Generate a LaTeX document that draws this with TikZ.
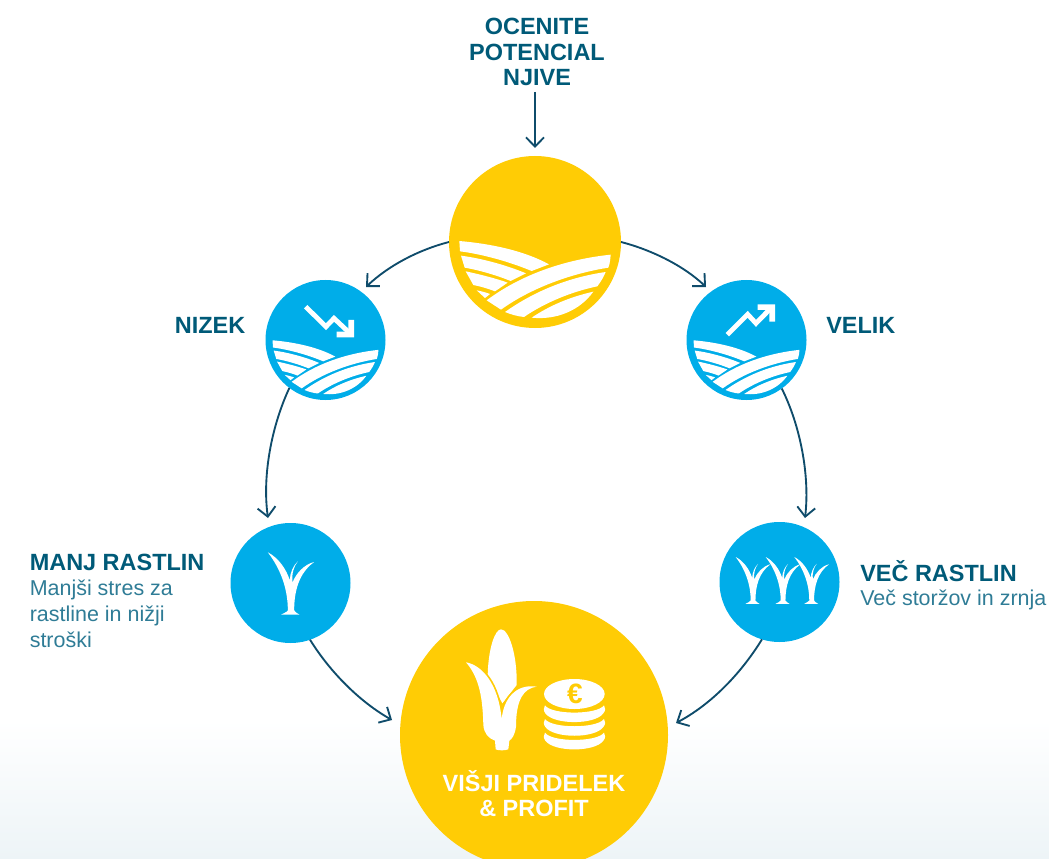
\documentclass[tikz,border=0pt]{standalone}
\usepackage{fontspec}
\setmainfont{Liberation Sans}
\usetikzlibrary{arrows.meta}
\definecolor{gold}{HTML}{FFCC05}
\definecolor{sky}{HTML}{00ADE9}
\definecolor{ink}{HTML}{0F4C6B}
\definecolor{headc}{HTML}{005A78}
\definecolor{bodyc}{HTML}{2F7C96}
\definecolor{mist}{HTML}{EDF4F7}
\tikzset{
 disc/.style={circle,inner sep=0pt,minimum size=#1*0.75pt,outer sep=0pt},
 head/.style={font=\fontsize{17.6}{19.2}\selectfont\bfseries,text=headc,inner sep=0pt,align=center},
 body/.style={font=\fontsize{16.1}{19.5}\selectfont,text=bodyc,inner sep=0pt,align=left,anchor=north west},
 link/.style={draw=ink,line width=1.4pt,-{Straight Barb[length=7pt,width=13.5pt,line width=1.4pt]}},
 art/.style={fill=white,draw=none}
}
\newcommand{\fieldart}{%
 \begin{scope}[shift={(-285,-275)}]
 \path[art] (58,272) .. controls (150,280) and (250,300) .. (327,342) -- (275,362) .. controls (210,335) and (130,312) .. (60,303) -- cycle;
 \path[art] (63,316) .. controls (130,325) and (200,345) .. (258,369) -- (212,392) .. controls (170,375) and (120,360) .. (74,352) -- cycle;
 \path[art] (77,363) .. controls (120,372) and (170,385) .. (203,397) -- (165,423) .. controls (145,415) and (120,408) .. (100,404) -- cycle;
 \path[art] (110,420) .. controls (125,423) and (140,427) .. (150,431) -- (135,443) -- cycle;
 \path[art] (512,313) .. controls (370,328) and (240,375) .. (140,450) -- (183,478) .. controls (270,415) and (390,370) .. (505,352) .. controls (510,340) and (511,325) .. (512,313) -- cycle;
 \path[art] (497,365) .. controls (380,382) and (280,425) .. (195,485) .. controls (212,492) and (232,498) .. (252,500) .. controls (310,460) and (390,425) .. (472,408) .. controls (482,395) and (491,380) .. (497,365) -- cycle;
 \path[art] (460,424) .. controls (390,440) and (330,465) .. (275,502) .. controls (350,510) and (420,480) .. (460,424) -- cycle;
 \end{scope}}
\newcommand{\plantart}{%
 \path[art] (-68,-92) .. controls (-28,-40) and (-8,20) .. (-8,82) .. controls (-10,88) and (-22,90) .. (-28,95) -- (27,95) .. controls (20,90) and (13,88) .. (11,82) .. controls (11,25) and (25,-30) .. (71,-63) .. controls (40,-55) and (18,-30) .. (6,-2) .. controls (3,-28) and (10,-50) .. (22,-65) .. controls (8,-52) and (-2,-30) .. (-2,-8) .. controls (-12,-40) and (-35,-75) .. (-68,-92) -- cycle;}
\begin{document}
\begin{tikzpicture}[x=0.75pt,y=-0.75pt]
\useasboundingbox (0,0) rectangle (1049,859);
\shade[top color=white,bottom color=mist] (0,720) rectangle (1049,859);

% discs
\node[disc=172,fill=gold] (top) at (535,242) {};
\node[disc=120,fill=sky] (low) at (325.5,340) {};
\node[disc=120,fill=sky] (big) at (746.5,340) {};
\node[disc=120,fill=sky] (few) at (290.5,583) {};
\node[disc=120,fill=sky] (many) at (779.5,582) {};
\begin{scope}
\clip (0,0) rectangle (1049,859);
\node[disc=268,fill=gold] (gain) at (534,735) {};
\end{scope}

% field icons
\begin{scope}[shift={(535,242)},scale=1/3] \fieldart \end{scope}
\begin{scope}[shift={(325.5,341)},scale=0.2333] \fieldart \end{scope}
\begin{scope}[shift={(746.5,341)},scale=0.2333] \fieldart \end{scope}

% trend arrows
\begin{scope}[shift={(255,270)},scale=1/3]
 \draw[white,line width=3.6pt,line join=miter] (152,110) -- (213,170) -- (237,145) -- (285,190);
 \path[art] (297,150) -- (297,202) -- (245,202) -- (245,185) -- (280,185) -- (280,150) -- cycle;
\end{scope}
\begin{scope}[shift={(680,270)},scale=1/3]
 \draw[white,line width=3.6pt,line join=miter] (142,194) -- (203,133) -- (228,160) -- (272,115);
 \path[art] (233,103) -- (285,103) -- (285,155) -- (268,155) -- (268,120) -- (233,120) -- cycle;
\end{scope}

% plants
\begin{scope}[shift={(290.5,583)},scale=1/3] \plantart \end{scope}
\begin{scope}[shift={(752.7,580)},scale=0.25] \plantart \end{scope}
\begin{scope}[shift={(782.7,580)},scale=0.25] \plantart \end{scope}
\begin{scope}[shift={(811.3,580)},scale=0.25] \plantart \end{scope}

% corn
\begin{scope}[shift={(440,620)},scale=1/3]
 \path[art] (143,165) .. controls (145,85) and (165,28) .. (183,28) .. controls (207,28) and (232,105) .. (230,195) -- (187,250) -- cycle;
 \path[draw=gold,line width=2.6pt] (78,127) .. controls (125,135) and (175,190) .. (185,298) .. controls (190,240) and (225,190) .. (290,200);
 \path[art] (78,127) .. controls (125,135) and (175,190) .. (185,298) .. controls (190,240) and (225,190) .. (290,200) .. controls (250,205) and (228,240) .. (228,320) .. controls (225,345) and (215,358) .. (208,362) -- (205,388) .. controls (195,392) and (175,392) .. (167,388) -- (165,362) .. controls (145,355) and (132,340) .. (130,315) .. controls (128,240) and (120,175) .. (78,127) -- cycle;
 % coins
 \path[art] (403,222) ellipse [x radius=91,y radius=45];
 \foreach \d in {0,41,82}{
  \path[art] (315,256+\d) .. controls (335,285+\d) and (471,285+\d) .. (492,256+\d) .. controls (497,263+\d) and (497,272+\d) .. (490,280+\d) .. controls (465,315+\d) and (341,315+\d) .. (316,280+\d) .. controls (310,272+\d) and (310,263+\d) .. (315,256+\d) -- cycle;
 }
 \node[inner sep=0pt,text=gold,font=\fontsize{21}{21}\selectfont\bfseries] (euro) at (405,221) {€};
\end{scope}

% texts
\node[head] (assess) at (537,52) {OCENITE\\POTENCIAL\\NJIVE};
\node[head,anchor=east] (lowt) at (245.5,325) {NIZEK};
\node[head,anchor=west] (bigt) at (826,325) {VELIK};
\node[head,anchor=west] (fewt) at (29.5,562) {MANJ RASTLIN};
\node[body] (fewb) at (29.5,580) {Manjši stres za\\rastline in nižji\\stroški};
\node[head,anchor=west] (manyt) at (860,571.5) {VEČ RASTLIN};
\node[body] (manyb) at (860,590) {Več storžov in zrnja};
\node[head,text=white] (gaint) at (534,793.5) {VIŠJI PRIDELEK\\\& PROFIT};

% connectors
\coordinate (assessfoot) at (535,92);
\coordinate (topfoot) at (535,148);
\draw[link] (assessfoot) -- (topfoot);
\draw[link] (top.180) .. controls (418,250) and (388,266) .. (366,287);
\draw[link] (top.0) .. controls (652,250) and (684,266) .. (706,287);
\draw[link] (low.233.5) .. controls (272,425) and (262,475) .. (268,518);
\draw[link] (big.-54) .. controls (800,425) and (810,475) .. (805,518);
\draw[link] (few.-71) .. controls (330,672) and (360,702) .. (392,720);
\draw[link] (many.-107) .. controls (740,675) and (710,705) .. (676,723);
\end{tikzpicture}
\end{document}
